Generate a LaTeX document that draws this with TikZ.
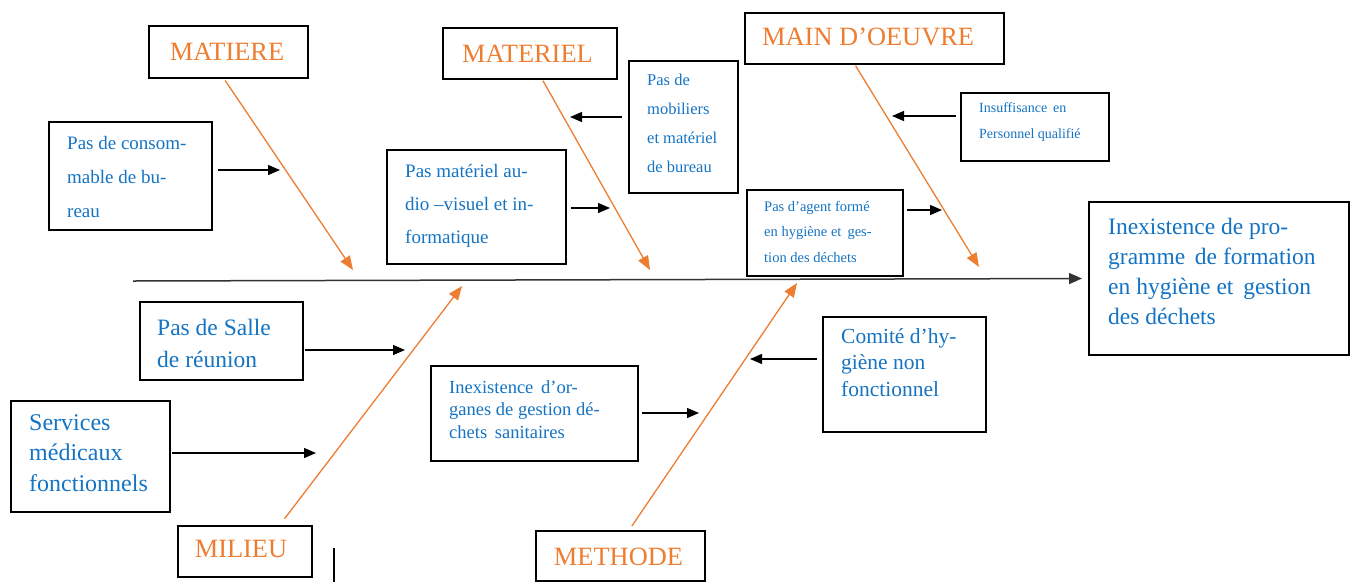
\documentclass[tikz,border=0pt]{standalone}
\usepackage{fontspec}
\setmainfont{Liberation Serif}
\usetikzlibrary{arrows.meta,calc}
\definecolor{orng}{HTML}{ED7D31}
\definecolor{blu}{RGB}{20,115,195}
\definecolor{spinec}{HTML}{333333}
\tikzset{
  box/.style={draw=black, line width=1.3pt, inner sep=0pt, outer sep=0pt, anchor=north west},
  txt/.style={text=blu, align=left, inner sep=0pt, anchor=base west},
  lbl/.style={text=orng, inner sep=0pt, font=\fontsize{26.4}{30}\selectfont},
  blk/.style={draw=black, line width=1.3pt, -{Triangle[length=12pt,width=10pt]}},
  orarr/.style={draw=orng, line width=1.3pt, -{Triangle[length=14pt,width=11pt]}},
}
\begin{document}
\begin{tikzpicture}[x=1pt,y=-1pt]
\useasboundingbox (0,0) rectangle (1352,582);
% boxes
\node[box, minimum width=159pt, minimum height=52pt] (matiere) at (149,26) {};
\node[box, minimum width=174pt, minimum height=51pt] (materiel) at (443,28) {};
\node[box, minimum width=259pt, minimum height=51pt] (main) at (745,13) {};
\node[box, minimum width=163pt, minimum height=108pt] (consom) at (49,122) {};
\node[box, minimum width=179pt, minimum height=114pt] (audio) at (387,150) {};
\node[box, minimum width=109pt, minimum height=132pt] (mobil) at (629,61) {};
\node[box, minimum width=148pt, minimum height=68pt] (insuff) at (961,93) {};
\node[box, minimum width=156pt, minimum height=86pt] (agent) at (747,190) {};
\node[box, minimum width=260pt, minimum height=153pt] (effect) at (1089,202) {};
\node[box, minimum width=163pt, minimum height=78pt] (salle) at (140,302) {};
\node[box, minimum width=159pt, minimum height=111pt] (serv) at (11,401) {};
\node[box, minimum width=207pt, minimum height=95pt] (organes) at (431,366) {};
\node[box, minimum width=163pt, minimum height=115pt] (comite) at (823,317) {};
\node[box, minimum width=134pt, minimum height=51pt] (milieu) at (178,526) {};
\node[box, minimum width=169pt, minimum height=50pt] (methode) at (536,531) {};
% category labels
\node[lbl] (tmatiere) at ([xshift=-1.5pt]matiere.center) {MATIERE};
\node[lbl] (tmateriel) at ([xshift=-2.5pt]materiel.center) {MATERIEL};
\node[lbl, anchor=west] (tmain) at ([xshift=17pt,yshift=1.5pt]main.west) {MAIN D’OEUVRE};
\node[lbl] (tmilieu) at ([xshift=-4pt,yshift=3pt]milieu.center) {MILIEU};
\node[lbl] (tmethode) at ([xshift=-2pt,yshift=-1pt]methode.center) {METHODE};
% cause texts (anchor = baseline of last line)
\node[txt, font=\fontsize{23.5}{30}\selectfont] (teffect) at (1108,324) {Inexistence de pro-\\gramme\, de formation\\en hygiène et\, gestion\\des déchets};
\node[txt, font=\fontsize{19}{34}\selectfont] (tconsom) at (67,217) {Pas de consom-\\mable de bu-\\reau};
\node[txt, font=\fontsize{19}{33}\selectfont] (taudio) at (405,243) {Pas matériel au-\\dio –visuel et in-\\formatique};
\node[txt, font=\fontsize{16.5}{29}\selectfont] (tmobil) at (647,172) {Pas de\\mobiliers\\et matériel\\de bureau};
\node[txt, font=\fontsize{14}{26}\selectfont] (tinsuff) at (979,138) {Insuffisance\, en\\Personnel qualifié};
\node[txt, font=\fontsize{14.5}{25.5}\selectfont] (tagent) at (764,262) {Pas d’agent formé\\en hygiène et\, ges-\\tion des déchets};
\node[txt, font=\fontsize{23.5}{32}\selectfont] (tsalle) at (157,367) {Pas de Salle\\de réunion};
\node[txt, font=\fontsize{24}{30.5}\selectfont] (tserv) at (29,491) {Services\\médicaux\\fonctionnels};
\node[txt, font=\fontsize{18.5}{22.5}\selectfont] (torganes) at (449,438) {Inexistence\, d’or-\\ganes de gestion dé-\\chets\, sanitaires};
\node[txt, font=\fontsize{21.5}{26.5}\selectfont] (tcomite) at (841,396) {Comité d’hy-\\giène non\\fonctionnel};
% spine
\coordinate (spineL) at (133,281);
\draw[draw=spinec, line width=1.5pt, -{Triangle[length=13pt,width=11pt]}] (spineL) -- ([xshift=-7pt]effect.west);
% points on spine
\coordinate (pmat) at (353,270);
\coordinate (pmtl) at (650,270);
\coordinate (pmain) at (979,267);
\coordinate (pmil) at (462,286);
\coordinate (pmet) at (797,283);
\draw[orarr, shorten <=3pt] ([xshift=-5pt]matiere.south) -- (pmat);
\draw[orarr, shorten <=2pt] ([xshift=12pt]materiel.south) -- (pmtl);
\draw[orarr, shorten <=2pt] ([xshift=-20pt]main.south) -- (pmain);
\draw[orarr, shorten <=9pt] ([xshift=34pt]milieu.north) -- (pmil);
\draw[orarr, shorten <=6pt] ([xshift=8pt]methode.north) -- (pmet);
% small cause arrows
\coordinate (aconsom) at (280,170);
\coordinate (aaudio) at (610,208);
\coordinate (amobil) at (570,117);
\coordinate (ainsuff) at (892,116);
\coordinate (aagent) at (942,210);
\coordinate (asalle) at (405,350);
\coordinate (aserv) at (316,453);
\coordinate (aorganes) at (699,413);
\coordinate (acomite) at (750,359);
\draw[blk, shorten <=6pt] (consom.east |- aconsom) -- (aconsom);
\draw[blk, shorten <=5pt] (audio.east |- aaudio) -- (aaudio);
\draw[blk, shorten <=7pt] (mobil.west |- amobil) -- (amobil);
\draw[blk, shorten <=5pt] (insuff.west |- ainsuff) -- (ainsuff);
\draw[blk, shorten <=4pt] (agent.east |- aagent) -- (aagent);
\draw[blk, shorten <=2pt] (salle.east |- asalle) -- (asalle);
\draw[blk, shorten <=2pt] (serv.east |- aserv) -- (aserv);
\draw[blk, shorten <=4pt] (organes.east |- aorganes) -- (aorganes);
\draw[blk, shorten <=6pt] (comite.west |- acomite) -- (acomite);
% stray vertical bar
\coordinate (vbar) at (334,582);
\draw[line width=1.5pt] ([xshift=22pt]milieu.east |- 0,548) -- (vbar);
\end{tikzpicture}
\end{document}
